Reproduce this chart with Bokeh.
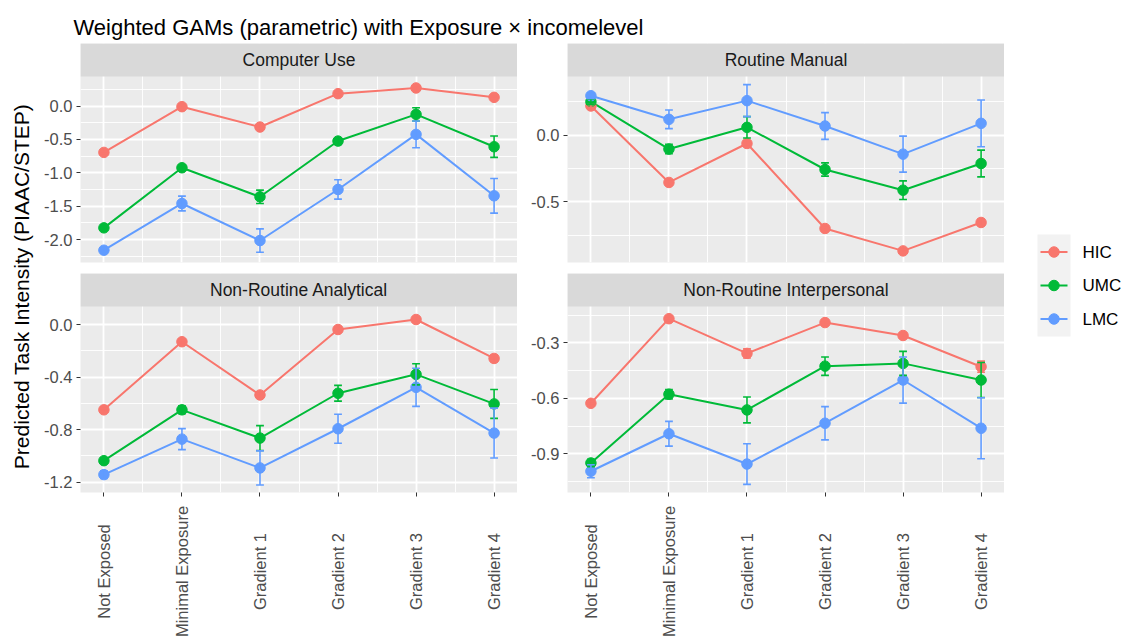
import math

from bokeh.core.properties import value
from bokeh.embed import file_html
from bokeh.layouts import column, row
from bokeh.models import ColumnDataSource, FixedTicker, NumeralTickFormatter, Range1d
from bokeh.plotting import figure
from bokeh.resources import INLINE

FONT = "Liberation Sans"

# ---------------------------------------------------------------- data
categories = ["Not Exposed", "Minimal Exposure", "Gradient 1",
              "Gradient 2", "Gradient 3", "Gradient 4"]
groups = ["HIC", "UMC", "LMC"]
group_colors = ["#F8766D", "#00BA38", "#619CFF"]

# Computer Use: predicted value and half-width of the error bar
cu_hic = [-0.695, -0.010, -0.315, 0.185, 0.270, 0.130]
cu_hic_err = [0.015, 0.015, 0.020, 0.015, 0.015, 0.020]
cu_umc = [-1.825, -0.925, -1.360, -0.525, -0.125, -0.610]
cu_umc_err = [0.020, 0.030, 0.100, 0.050, 0.100, 0.160]
cu_lmc = [-2.160, -1.460, -2.015, -1.250, -0.425, -1.345]
cu_lmc_err = [0.025, 0.110, 0.175, 0.145, 0.200, 0.260]

# Routine Manual
rm_hic = [0.218, -0.355, -0.063, -0.700, -0.868, -0.655]
rm_hic_err = [0.010, 0.010, 0.020, 0.010, 0.010, 0.025]
rm_umc = [0.250, -0.105, 0.058, -0.258, -0.413, -0.213]
rm_umc_err = [0.020, 0.035, 0.080, 0.050, 0.070, 0.100]
rm_lmc = [0.295, 0.118, 0.258, 0.068, -0.143, 0.088]
rm_lmc_err = [0.020, 0.070, 0.120, 0.100, 0.135, 0.175]

# Non-Routine Analytical
nra_hic = [-0.649, -0.131, -0.536, -0.038, 0.038, -0.258]
nra_hic_err = [0.010, 0.010, 0.025, 0.010, 0.010, 0.025]
nra_umc = [-1.036, -0.649, -0.864, -0.523, -0.379, -0.604]
nra_umc_err = [0.015, 0.030, 0.095, 0.060, 0.080, 0.110]
nra_lmc = [-1.142, -0.872, -1.091, -0.793, -0.478, -0.826]
nra_lmc_err = [0.030, 0.080, 0.130, 0.110, 0.145, 0.190]

# Non-Routine Interpersonal
nri_hic = [-0.627, -0.169, -0.357, -0.190, -0.260, -0.429]
nri_hic_err = [0.010, 0.010, 0.025, 0.010, 0.012, 0.030]
nri_umc = [-0.950, -0.578, -0.663, -0.426, -0.411, -0.501]
nri_umc_err = [0.020, 0.025, 0.070, 0.050, 0.065, 0.095]
nri_lmc = [-0.995, -0.792, -0.956, -0.735, -0.501, -0.762]
nri_lmc_err = [0.035, 0.067, 0.110, 0.090, 0.125, 0.165]

facet_names = ["Computer Use", "Routine Manual",
               "Non-Routine Analytical", "Non-Routine Interpersonal"]
facet_limits = [(-2.344, 0.442), (-0.955, 0.439), (-1.278, 0.137), (-1.110, -0.103)]
facet_ticks = [[-2.0, -1.5, -1.0, -0.5, 0.0],
               [-0.5, 0.0],
               [-1.2, -0.8, -0.4, 0.0],
               [-0.9, -0.6, -0.3]]

title_text = "Weighted GAMs (parametric) with Exposure \u00d7 incomelevel"
y_title = "Predicted Task Intensity (PIAAC/STEP)"

# ---------------------------------------------------------------- layout constants
STRIP_PX = 33
PANEL_PX = 186
PANEL_W = 437
TICK_BAND = 10          # room under a bottom panel for the tick marks
XLABEL_H = 139          # band holding the rotated category names
X_LO, X_HI = 0.7, 6.3
BG = "#EBEBEB"
STRIP_BG = "#D9D9D9"
TICK_FONT_SIZE = "16.5px"


def minor_breaks(ticks, lo, hi):
    step = ticks[1] - ticks[0]
    mids = [ticks[0] - step / 2] + [t + step / 2 for t in ticks]
    return [m for m in mids if lo <= m <= hi]


def blank(width, height, x_range, y_range, left=0):
    f = figure(width=width, height=height, x_range=x_range, y_range=y_range,
               x_axis_location=None, y_axis_location=None,
               output_backend="svg", toolbar_location=None,
               min_border_left=left, min_border_right=0, min_border_top=0, min_border_bottom=0)
    f.xgrid.visible = False
    f.ygrid.visible = False
    f.outline_line_color = None
    f.background_fill_color = "white"
    f.border_fill_color = "white"
    return f


def make_panel(name, series, errors, limits, ticks, bottom, left_border):
    lo, hi = limits
    px = (hi - lo) / PANEL_PX
    strip_top = hi + STRIP_PX * px
    border_bottom = TICK_BAND if bottom else 11
    p = figure(width=left_border + PANEL_W,
               height=STRIP_PX + PANEL_PX + border_bottom,
               x_range=Range1d(X_LO, X_HI), y_range=Range1d(lo, strip_top),
               x_axis_location="below" if bottom else None,
               output_backend="svg", toolbar_location=None,
               min_border_left=left_border, min_border_right=0,
               min_border_top=0, min_border_bottom=border_bottom)
    p.background_fill_color = BG
    p.border_fill_color = "white"
    p.outline_line_color = None

    xs = list(range(1, len(categories) + 1))
    xticker = FixedTicker(ticks=xs, minor_ticks=[x + 0.5 for x in xs[:-1]])
    yticker = FixedTicker(ticks=ticks, minor_ticks=minor_breaks(ticks, lo, hi))

    p.xgrid.ticker = xticker
    p.ygrid.ticker = yticker
    for g in (p.xgrid, p.ygrid):
        g.grid_line_color = "white"
        g.grid_line_width = 1.8
        g.minor_grid_line_color = "white"
        g.minor_grid_line_width = 0.9

    ax = p.yaxis[0]
    ax.ticker = yticker
    ax.formatter = NumeralTickFormatter(format="0.0")
    ax.axis_line_color = None
    ax.minor_tick_line_color = None
    ax.major_tick_in = 0
    ax.major_tick_out = 4
    ax.major_tick_line_color = "#333333"
    ax.major_label_standoff = 4
    ax.major_label_text_font = FONT
    ax.major_label_text_font_size = TICK_FONT_SIZE
    ax.major_label_text_color = "#4D4D4D"

    # facet strip
    p.quad(left=[X_LO], right=[X_HI], bottom=[hi], top=[strip_top],
           fill_color=STRIP_BG, line_color=None)
    p.text(x=[(X_LO + X_HI) / 2], y=[(hi + strip_top) / 2], text=[name],
           text_align="center", text_baseline="middle",
           text_font=value(FONT), text_font_size="17.5px", text_color="#1A1A1A")

    sources = []
    for yv, ev in zip(series, errors):
        sources.append(ColumnDataSource(dict(
            x=xs, y=yv,
            lower=[y - e for y, e in zip(yv, ev)],
            upper=[y + e for y, e in zip(yv, ev)],
            cap_l=[x - 0.05 for x in xs],
            cap_r=[x + 0.05 for x in xs],
        )))

    for src, color in zip(sources, group_colors):
        p.line("x", "y", source=src, line_color=color, line_width=2)
    for src, color in zip(sources, group_colors):
        p.scatter("x", "y", source=src, marker="circle", size=10.5,
                  fill_color=color, line_color=color)
    for src, color in zip(sources, group_colors):
        p.segment("x", "lower", "x", "upper", source=src, line_color=color, line_width=1.6)
        p.segment("cap_l", "lower", "cap_r", "lower", source=src, line_color=color, line_width=1.6)
        p.segment("cap_l", "upper", "cap_r", "upper", source=src, line_color=color, line_width=1.6)

    if not bottom:
        return p

    # tick marks from the axis; the category names sit, centred on a common
    # line, in a band below that shares the panel's x scale
    bx = p.xaxis[0]
    bx.ticker = xticker
    bx.major_label_overrides = {x: "" for x in xs}
    bx.axis_line_color = None
    bx.minor_tick_line_color = None
    bx.major_tick_in = 0
    bx.major_tick_out = 4
    bx.major_tick_line_color = "#333333"

    band = blank(left_border + PANEL_W, XLABEL_H, p.x_range, Range1d(XLABEL_H, 0), left=left_border)
    band.text(x=xs, y=[69] * len(xs), text=categories, angle=math.pi / 2,
              text_align="center", text_baseline="middle",
              text_font=value(FONT), text_font_size=TICK_FONT_SIZE, text_color="#4D4D4D")
    return column(p, band)


panel_series = [
    ([cu_hic, cu_umc, cu_lmc], [cu_hic_err, cu_umc_err, cu_lmc_err]),
    ([rm_hic, rm_umc, rm_lmc], [rm_hic_err, rm_umc_err, rm_lmc_err]),
    ([nra_hic, nra_umc, nra_lmc], [nra_hic_err, nra_umc_err, nra_lmc_err]),
    ([nri_hic, nri_umc, nri_lmc], [nri_hic_err, nri_umc_err, nri_lmc_err]),
]

panels = []
for i, (name, (series, errors), limits, ticks) in enumerate(
        zip(facet_names, panel_series, facet_limits, facet_ticks)):
    panels.append(make_panel(name, series, errors, limits, ticks,
                             bottom=i >= 2, left_border=45 if i % 2 == 0 else 50))

# page title (canvas-pixel coordinates, y pointing down)
head = blank(1124, 43, Range1d(0, 1124), Range1d(43, 0))
head.text(x=[73], y=[27], text=[title_text], text_align="left", text_baseline="alphabetic",
          text_font=value(FONT), text_font_size="22px", text_color="black")

# shared y-axis title
ylab = blank(35, 598, Range1d(0, 35), Range1d(641, 43))
ylab.text(x=[21], y=[286], text=[y_title], angle=math.pi / 2,
          text_align="center", text_baseline="middle",
          text_font=value(FONT), text_font_size="21px", text_color="black")

# legend
leg = blank(120, 598, Range1d(1004, 1124), Range1d(641, 43))
key_y = [251.5, 285.0, 318.5]
leg.quad(left=[1037], right=[1070], top=[234], bottom=[336], fill_color="#F2F2F2", line_color=None)
for g, color, ky in zip(groups, group_colors, key_y):
    leg.segment(x0=[1040], y0=[ky], x1=[1067], y1=[ky], line_color=color, line_width=2)
    leg.scatter(x=[1053.5], y=[ky], marker="circle", size=10.5, fill_color=color, line_color=color)
    leg.text(x=[1082], y=[ky], text=[g], text_align="left", text_baseline="middle",
             text_font=value(FONT), text_font_size="17px", text_color="black")

page = column(head, row(ylab, column(panels[0], panels[2]), column(panels[1], panels[3]), leg))

open("out.html", "w").write(file_html(page, INLINE))
